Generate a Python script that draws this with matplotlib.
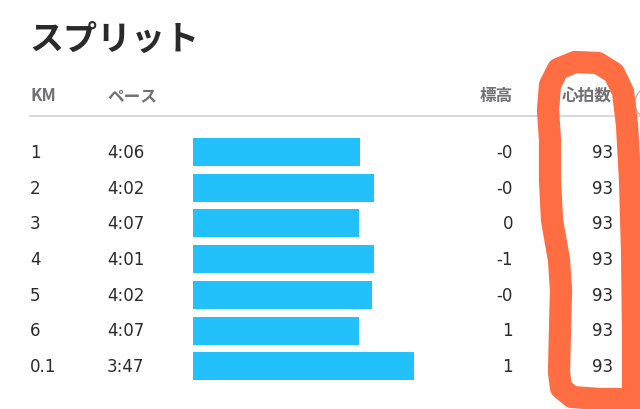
import numpy as np
import matplotlib.pyplot as plt
from matplotlib.patches import Circle

plt.rcParams['font.family'] = ['Noto Sans CJK JP', 'DejaVu Sans']

# split table data -------------------------------------------
km = ['1', '2', '3', '4', '5', '6', '0.1']
pace = ['4:06', '4:02', '4:07', '4:01', '4:02', '4:07', '3:47']
pace_bar = [167, 181, 166, 181, 179, 166, 221]   # bar length
elev = ['-0', '-0', '0', '-1', '-0', '1', '1']
hr = ['93', '93', '93', '93', '93', '93', '93']

# hand-drawn orange loop (centre line, pixel coords)
loop_x = [645, 600, 572, 561, 559, 560, 561, 559, 552, 550, 550, 548, 550, 558,
          575, 598, 614, 623, 627, 630, 632, 633, 633]
loop_y = [399, 399, 397, 388, 372, 330, 290, 260, 220, 180, 140, 110, 85, 69,
          62, 63, 73, 92, 125, 180, 250, 330, 412]

fig = plt.figure(figsize=(6.4, 4.09), dpi=100)
ax = fig.add_axes([0, 0, 1, 1])
ax.set_xlim(0, 640)
ax.set_ylim(409, 0)
ax.axis('off')

dark = '#2a2a2a'
grey = '#707075'
num_font = ['DejaVu Sans']

ax.text(29, 39, 'スプリット', fontsize=24.5, fontweight='bold', color=dark,
        va='center', ha='left')

hy = 96
ax.text(30, hy, 'KM', fontsize=12, fontweight='bold', color=grey, va='center', ha='left')
ax.text(107, hy, 'ペース', fontsize=12, fontweight='bold', color=grey, va='center', ha='left')
ax.text(513, hy, '標高', fontsize=12, fontweight='bold', color=grey, va='center', ha='right')
ax.text(612, hy, '心拍数', fontsize=12, fontweight='bold', color=grey, va='center', ha='right')
ax.plot([30, 640], [116, 116], color='#d2d2d4', lw=1.2)

# small cut-off icon at the right edge
ax.add_patch(Circle((652, 103), 17, fill=False, ec='#b8b8bc', lw=1.0))

rows = 152 + np.arange(len(km)) * 35.7
ax.barh(rows, pace_bar, left=193, height=28, color='#23c1fc')

for i, y in enumerate(rows):
    ax.text(30, y + 1, km[i], fontsize=12, family=num_font, color=dark, va='center', ha='left')
    ax.text(107, y + 1, pace[i], fontsize=12, family=num_font, color=dark, va='center', ha='left')
    ax.text(513, y + 1, elev[i], fontsize=12, family=num_font, color=dark, va='center', ha='right')
    ax.text(613, y + 1, hr[i], fontsize=12, family=num_font, color=dark, va='center', ha='right')

ax.plot(loop_x, loop_y, color='#ff6d42', lw=16, solid_capstyle='round',
        solid_joinstyle='round', zorder=5)

fig.savefig('out.png', dpi=100)
